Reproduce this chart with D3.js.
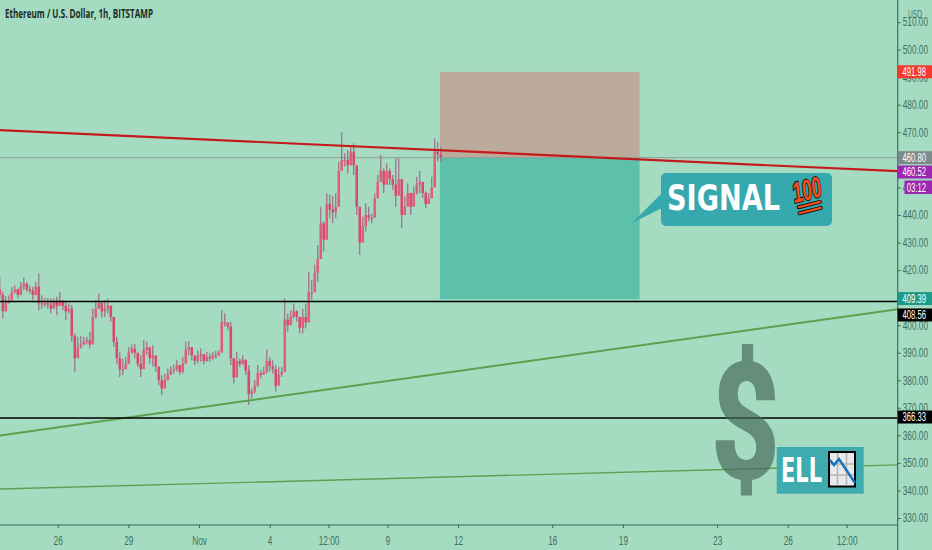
<!DOCTYPE html>
<html><head><meta charset="utf-8">
<script src="https://cdn.jsdelivr.net/npm/d3@7/dist/d3.min.js"></script>
<style>
html,body{margin:0;padding:0;background:#a5dcc1;overflow:hidden}
svg{display:block}
text{font-family:"Liberation Sans",sans-serif}
</style></head><body>
<svg id="c" width="932" height="550"></svg>
<script>
// ---------- data ----------
const titleText = "Ethereum / U.S. Dollar, 1h, BITSTAMP";
const candleStart = Date.UTC(2020,9,23,13,0);
const candleStepMinutes = 183.4;
const candleHigh = [417.5,412.1,410.6,410.9,413.9,414.5,413.3,415.7,417.2,415.7,414.5,413.9,415.7,418.8,410.9,409.9,409.9,409.7,409.7,410.3,412.1,408.5,408.5,407.9,407.3,397.0,395.8,396.1,395.8,395.8,397.6,406.0,409.1,411.5,408.5,409.1,409.7,407.3,398.8,395.8,390.3,387.9,388.5,392.1,393.0,393.3,389.1,389.1,394.6,394.0,390.9,392.7,388.5,384.3,381.9,382.5,384.3,385.2,385.7,387.3,385.5,388.5,394.0,394.2,392.1,388.5,390.9,391.5,388.5,390.3,389.7,390.3,390.6,390.9,405.4,404.2,400.6,401.2,386.7,390.3,387.9,389.1,386.1,385.5,377.0,380.0,385.5,383.7,384.9,391.3,388.5,387.3,385.5,384.9,384.9,409.7,404.2,405.4,407.9,405.4,403.0,406.0,407.9,419.4,416.4,421.9,429.1,443.0,437.6,447.9,447.3,447.0,447.9,459.4,470.0,462.4,463.6,465.4,466.0,455.7,441.2,439.4,444.2,443.0,440.6,447.9,454.5,461.8,456.9,458.8,456.9,454.5,460.6,460.6,449.1,446.7,451.5,446.1,450.3,453.9,456.0,450.9,448.5,447.9,453.9,467.8,466.6,464.8];
const candleLow = [409.7,402.4,406.0,407.9,409.1,411.5,409.7,410.9,412.7,412.1,411.5,409.1,410.9,405.4,406.0,406.7,406.0,404.2,407.3,403.6,407.9,405.4,401.8,404.2,394.0,383.1,389.1,391.5,392.7,393.0,391.5,396.4,402.4,406.0,402.7,403.0,404.2,401.2,392.1,386.1,381.2,381.8,384.9,386.7,389.7,387.9,384.9,381.2,387.9,389.1,386.1,384.9,383.1,378.2,374.6,378.2,380.6,381.9,382.5,383.1,381.9,382.5,386.7,389.1,387.3,385.5,386.1,386.7,385.7,386.7,386.7,387.3,387.9,389.1,390.3,399.4,398.2,385.5,378.8,383.1,384.9,385.5,381.9,371.0,373.4,375.2,377.6,380.6,381.9,382.5,383.1,382.5,375.8,379.4,381.2,383.7,397.6,401.2,402.4,401.2,397.0,397.0,398.8,409.7,409.2,413.4,415.8,427.3,426.7,436.4,438.8,437.0,438.8,445.5,456.3,457.6,455.1,460.6,454.5,440.0,425.5,433.4,434.0,437.6,437.0,444.2,448.5,453.3,447.9,452.1,450.9,449.1,443.0,449.7,435.2,440.0,444.2,440.0,444.9,447.3,447.9,446.1,442.4,444.9,446.7,450.9,459.4,459.4];
const candleClose = [411,405,408,409,412,413,411,414,415,413,412.5,411,414,408,408,408,407.5,406,408.5,407,409,407,405,406,396,388,392,393,394,394.5,393,403,406,408,405,406,407,403,394,388,384,384,386,390,391.5,390,386,384,391,392,388,389,385,380,377,380,382,383.5,384,385.5,383,386,391,392,389,387,389,389.5,387,388.5,388,389,389,390,401,401,399.5,388,381,387,386,387.5,383.5,375,376,378,382.5,382,383,387,385,384,378,382,383,402,400,403,405,403,399,403,401,412,412,419,424,437,431,444,442,441,443,456,460,460,458,463,458,443,430,436,440,439,439,446,452,456,451,456,453,451,447,453,440,443,448,443,448,451,452,448,444,446,450,463,462,461];
const priceTicks = [330,340,350,360,370,380,390,400,410,420,430,440,450,460,470,480,490,500,510];
const dateTicks = [[Date.UTC(2020,9,26),"26"],[Date.UTC(2020,9,29),"29"],[Date.UTC(2020,10,1),"Nov"],[Date.UTC(2020,10,4),"4"],[Date.UTC(2020,10,6,12),"12:00"],[Date.UTC(2020,10,9),"9"],[Date.UTC(2020,10,12),"12"],[Date.UTC(2020,10,16),"16"],[Date.UTC(2020,10,19),"19"],[Date.UTC(2020,10,23),"23"],[Date.UTC(2020,10,26),"26"],[Date.UTC(2020,10,28,12),"12:00"]];
const positionTimes = [Date.UTC(2020,10,11,5,30),Date.UTC(2020,10,19,17,0)];
const stopPrice = 491.98, entryPrice = 460.80, targetPrice = 409.39;
const blackLevels = [408.56,366.33];
const redLine = [[Date.UTC(2020,9,23,13),470.8],[Date.UTC(2020,10,30,16),455.9]];
const greenLineA = [[Date.UTC(2020,9,23,13),359.9],[Date.UTC(2020,10,30,16),405.8]];
const greenLineB = [[Date.UTC(2020,9,23,13),340.5],[Date.UTC(2020,10,30,16),349.3]];
const priceTags = [["491.98",491.98,"#f4392d"],["460.80",460.80,"#7d8a8c"],["460.52",455.6,"#9c27b0"],["409.39",409.66,"#1c9c88"],["408.56",403.7,"#000000"],["366.33",366.66,"#000000"]];

// ---------- scales ----------
const W=932,H=550,axisX=897.7,axisY=525;
const x=d3.scaleUtc().domain([Date.UTC(2020,9,23,13,12),Date.UTC(2020,10,30,16,0)]).range([0,axisX]);
const y=d3.scaleLinear().domain([330,500]).range([518,49.7]);
const svg=d3.select("#c");
const narrow=(sel,f)=>sel.each(function(){this.setAttribute("textLength",(this.getComputedTextLength()*f).toFixed(1));this.setAttribute("lengthAdjust","spacingAndGlyphs");});
svg.append("rect").attr("width",W).attr("height",H).attr("fill","#a5dcc1");
const defs=svg.append("defs");
defs.append("clipPath").attr("id","plot").append("rect").attr("width",axisX).attr("height",axisY);
defs.append("filter").attr("id","soft").append("feGaussianBlur").attr("stdDeviation",0.45);
const plot=svg.append("g").attr("clip-path","url(#plot)");

// long/short position boxes
plot.append("rect").attr("x",x(positionTimes[0])).attr("width",x(positionTimes[1])-x(positionTimes[0]))
  .attr("y",y(stopPrice)).attr("height",y(entryPrice)-y(stopPrice)).attr("fill","#bcab9b");
plot.append("rect").attr("x",x(positionTimes[0])).attr("width",x(positionTimes[1])-x(positionTimes[0]))
  .attr("y",y(entryPrice)).attr("height",y(targetPrice)-y(entryPrice)).attr("fill","#5cc0aa");

// last-price line
plot.append("line").attr("x1",0).attr("x2",axisX).attr("y1",y(entryPrice)).attr("y2",y(entryPrice))
  .attr("stroke","#8f9c98").attr("stroke-width",1);

// candles
const candles=candleHigh.map((h,i)=>({t:candleStart+i*candleStepMinutes*60000,h,l:candleLow[i],c:candleClose[i],o:i?candleClose[i-1]:413}));
const cg=plot.append("g").attr("filter","url(#soft)");
cg.selectAll(".w").data(candles).join("line").attr("x1",d=>x(d.t)).attr("x2",d=>x(d.t))
  .attr("y1",d=>y(d.h)).attr("y2",d=>y(d.l)).attr("stroke","#a06a8a").attr("stroke-width",1.2);
cg.selectAll(".b").data(candles).join("rect")
  .attr("x",d=>x(d.t)-1.3).attr("width",2.6)
  .attr("y",d=>y(Math.max(d.o,d.c))).attr("height",d=>Math.max(1.5,Math.abs(y(d.o)-y(d.c))))
  .attr("fill",d=>d.c>=d.o?"#df5f78":"#d94a6e");

// trend lines
const ln=d3.line().x(d=>x(d[0])).y(d=>y(d[1]));
plot.append("path").attr("d",ln(greenLineB)).attr("fill","none").attr("stroke","#5f9f50").attr("stroke-width",1.4);
plot.append("path").attr("d",ln(greenLineA)).attr("fill","none").attr("stroke","#5f9f50").attr("stroke-width",2);
plot.append("path").attr("d",ln(redLine)).attr("fill","none").attr("stroke","#c6191a").attr("stroke-width",2.2);
blackLevels.forEach(p=>plot.append("line").attr("x1",0).attr("x2",axisX).attr("y1",y(p)).attr("y2",y(p)).attr("stroke","#000").attr("stroke-width",1.5));

// title
svg.append("text").attr("x",5).attr("y",17.5).attr("font-size",11.5).attr("font-weight",700).attr("fill","#1c2b26")
  .attr("textLength",148).attr("lengthAdjust","spacingAndGlyphs").style("font-family","'Open Sans'").text(titleText);

// callout
const callout=svg.append("g");
callout.append("path").attr("d","M632,223 L662,193 L662,208 Z").attr("fill","#35a9ae");
callout.append("rect").attr("x",661).attr("y",173).attr("width",171).attr("height",53).attr("rx",5).attr("fill","#35a9ae");
callout.append("text").attr("x",667).attr("y",210).attr("font-size",35).attr("font-weight",700).attr("fill","#fff")
  .attr("textLength",113).attr("lengthAdjust","spacingAndGlyphs").style("font-family","'DejaVu Sans'").text("SIGNAL");
const hundred=callout.append("g").attr("transform","translate(795,203) rotate(-14)");
hundred.append("text").attr("x",0).attr("y",0).attr("font-size",29).attr("font-weight",700).attr("font-style","italic")
  .attr("fill","#f0501e").attr("stroke","#1a0a05").attr("stroke-width",2).attr("paint-order","stroke")
  .attr("textLength",29).attr("lengthAdjust","spacingAndGlyphs").style("font-family","'Liberation Sans'").text("100");
[5,11].forEach(o=>hundred.append("line").attr("x1",3-o*0.1).attr("x2",25-o*0.1).attr("y1",o).attr("y2",o)
  .attr("stroke","#1a0a05").attr("stroke-width",4).attr("stroke-linecap","round"));
[5,11].forEach(o=>hundred.append("line").attr("x1",3-o*0.1).attr("x2",25-o*0.1).attr("y1",o).attr("y2",o)
  .attr("stroke","#f0501e").attr("stroke-width",2.2).attr("stroke-linecap","round"));

// dollar sign
svg.append("text").attr("transform","translate(745.5,477) scale(0.74,1)").attr("text-anchor","middle")
  .attr("font-size",160).attr("font-weight",700).attr("fill","#46695c").attr("stroke","#46695c").attr("stroke-width",3).attr("opacity",0.68)
  .style("font-family","Roboto").text("$");

// ELL badge
svg.append("rect").attr("x",776.7).attr("y",447).attr("width",87).attr("height",46.7).attr("fill","#3aa9ad").attr("fill-opacity",0.96);
svg.append("text").attr("x",781).attr("y",482).attr("font-size",34).attr("font-weight",700).attr("fill","#fff")
  .attr("textLength",41).attr("lengthAdjust","spacingAndGlyphs").style("font-family","'DejaVu Sans'").text("ELL");
const ic=svg.append("g").attr("transform","translate(829,452)");
ic.append("rect").attr("width",26).attr("height",34.5).attr("fill","#e8e9ec").attr("stroke","#000").attr("stroke-width",2);
[8.5,17.5].forEach(v=>ic.append("line").attr("x1",v).attr("x2",v).attr("y1",1).attr("y2",33.5).attr("stroke","#b5b5b0").attr("stroke-width",1.5));
[12,23].forEach(v=>ic.append("line").attr("y1",v).attr("y2",v).attr("x1",1).attr("x2",25).attr("stroke","#b5b5b0").attr("stroke-width",1.5));
ic.append("path").attr("d","M1,8 L5,13 L10,7 L26,31").attr("fill","none").attr("stroke","#1272c0").attr("stroke-width",2.4);

// axes
const axisCol="#2f6a58",labelCol="#3d6f60";
const yAxis=svg.append("g").attr("transform",`translate(${axisX},0)`)
  .call(d3.axisRight(y).tickValues(priceTicks).tickSize(3).tickPadding(2).tickFormat(d3.format(".2f")));
const xAxis=svg.append("g").attr("transform",`translate(0,${axisY})`)
  .call(d3.axisBottom(x).tickValues(dateTicks.map(d=>d[0])).tickSize(3).tickPadding(8)
    .tickFormat((d,i)=>dateTicks[i][1]));
[yAxis,xAxis].forEach(a=>{a.select(".domain").remove();a.selectAll("line").attr("stroke",axisCol);
  a.selectAll("text").attr("fill",labelCol).attr("font-size",12);narrow(a.selectAll("text"),0.69);});
svg.append("line").attr("x1",axisX).attr("x2",axisX).attr("y1",0).attr("y2",H).attr("stroke",axisCol).attr("stroke-width",1.1);
svg.append("line").attr("x1",0).attr("x2",axisX).attr("y1",axisY).attr("y2",axisY).attr("stroke",axisCol).attr("stroke-width",1.1);
svg.append("text").attr("x",915).attr("y",18).attr("text-anchor","middle").attr("font-size",11.5).attr("fill",labelCol)
  .attr("textLength",14).attr("lengthAdjust","spacingAndGlyphs").text("USD");

// price tags
priceTags.forEach(([t,p,col])=>{
  const cy=y(p);
  svg.append("rect").attr("x",axisX).attr("y",cy-6.5).attr("width",W-axisX).attr("height",13).attr("fill",col);
  svg.append("text").attr("x",902.5).attr("y",cy+4.2).attr("font-size",12).attr("fill","#fff")
    .attr("textLength",23.5).attr("lengthAdjust","spacingAndGlyphs").text(t);
});
svg.append("rect").attr("x",904.5).attr("y",180.5).attr("width",W-904.5).attr("height",13.5).attr("fill","#9c27b0");
svg.append("text").attr("x",906.7).attr("y",191.5).attr("font-size",12).attr("fill","#fff")
  .attr("textLength",19.5).attr("lengthAdjust","spacingAndGlyphs").text("03:12");
</script>
</body></html>
